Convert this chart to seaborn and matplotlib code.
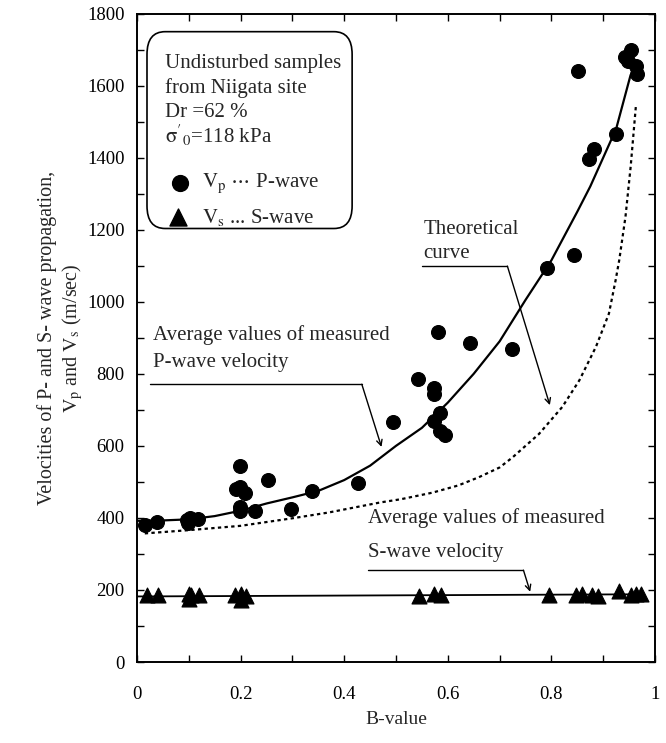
import numpy as np
import pandas as pd
import seaborn as sns
import matplotlib.pyplot as plt
from matplotlib.patches import FancyBboxPatch

# measured P-wave velocities
p_b = [0.015, 0.038, 0.099, 0.097, 0.103, 0.118, 0.198, 0.253, 0.192, 0.199, 0.208, 0.198, 0.198,
       0.227, 0.297, 0.337, 0.426, 0.494, 0.543, 0.573, 0.573, 0.582, 0.584, 0.574, 0.584, 0.595,
       0.642, 0.724, 0.792, 0.844, 0.852, 0.873, 0.882, 0.924, 0.943, 0.947, 0.953, 0.963, 0.966]
p_v = [380, 390, 385, 395, 400, 398, 545, 505, 480, 485, 470, 430, 418,
       420, 425, 475, 497, 665, 785, 760, 745, 915, 690, 670, 640, 630,
       885, 870, 1095, 1130, 1640, 1395, 1425, 1465, 1680, 1668, 1700, 1655, 1632]

# measured S-wave velocities
s_b = [0.02, 0.04, 0.10, 0.10, 0.105, 0.12, 0.19, 0.20, 0.20, 0.21, 0.545, 0.574, 0.587,
       0.796, 0.847, 0.86, 0.879, 0.889, 0.931, 0.953, 0.963, 0.972]
s_v = [185, 185, 176, 190, 185, 185, 185, 172, 188, 183, 183, 188, 185,
       185, 185, 190, 187, 183, 197, 185, 190, 190]

# average (fitted) P-wave curve
avg_p_b = [0.0, 0.05, 0.1, 0.15, 0.2, 0.25, 0.3, 0.35, 0.4, 0.45, 0.5, 0.55, 0.6, 0.65,
           0.7, 0.75, 0.8, 0.85, 0.875, 0.9, 0.925, 0.953]
avg_p_v = [392, 393, 396, 405, 420, 440, 457, 475, 505, 545, 600, 650, 720, 800,
           890, 1005, 1115, 1250, 1320, 1400, 1480, 1630]

# average S-wave line
avg_s_b = [0.0, 0.975]
avg_s_v = [182, 188]

# theoretical curve
theo_b = [0.015, 0.1, 0.2, 0.3, 0.37, 0.47, 0.51, 0.57, 0.62, 0.66, 0.70, 0.725, 0.776,
          0.821, 0.854, 0.886, 0.911, 0.924, 0.931, 0.943, 0.953, 0.963]
theo_v = [357, 366, 378, 399, 415, 443, 452, 470, 490, 513, 540, 568, 633,
          708, 782, 875, 967, 1060, 1116, 1236, 1375, 1542]

sns.set_style("ticks")
plt.rcParams['font.family'] = ['Liberation Serif', 'DejaVu Serif']
plt.rcParams['mathtext.fontset'] = 'stix'

fig = plt.figure(figsize=(6.66, 7.43), dpi=100)
ax = fig.add_axes([0.2057, 0.109, 0.7778, 0.8728])

sns.lineplot(x=avg_p_b, y=avg_p_v, ax=ax, color='black', lw=1.6, sort=False, estimator=None)
sns.lineplot(x=theo_b, y=theo_v, ax=ax, color='black', lw=1.6, sort=False, estimator=None,
             linestyle=(0, (1.5, 1.5)))
sns.lineplot(x=avg_s_b, y=avg_s_v, ax=ax, color='black', lw=1.3, sort=False, estimator=None)
sns.scatterplot(x=p_b, y=p_v, ax=ax, color='black', marker='o', s=100, edgecolor='black', zorder=5)
sns.scatterplot(x=s_b, y=s_v, ax=ax, color='black', marker='^', s=115, edgecolor='black', zorder=5)

ax.set_xlim(0, 1)
ax.set_ylim(0, 1800)
ax.set_xticks(np.arange(0, 1.01, 0.2))
ax.set_xticklabels(['0', '0.2', '0.4', '0.6', '0.8', '1'])
ax.set_xticks(np.arange(0.1, 1.0, 0.2), minor=True)
ax.set_yticks(np.arange(0, 1801, 200))
ax.set_yticks(np.arange(100, 1800, 200), minor=True)
ax.tick_params(which='both', direction='in', length=5, width=1, top=True, right=True,
               labelsize=13.5, colors='black')
ax.tick_params(axis='x', pad=17)
ax.tick_params(axis='y', pad=9)
for sp in ax.spines.values():
    sp.set_linewidth(1.4)
    sp.set_color('black')

ax.set_xlabel('B-value', fontsize=14, labelpad=6)
ax.set_ylabel('Velocities of P- and S- wave propagation,\n'
              r'$\mathrm{V_p}$ and $\mathrm{V_s}$ (m/sec)', fontsize=14.5, linespacing=1.2)
ax.yaxis.set_label_coords(-0.1, 0.5)

fs = 15
# P-wave annotation
ax.text(0.031, 907, 'Average values of measured', fontsize=fs, va='center')
ax.text(0.031, 832, 'P-wave velocity', fontsize=fs, va='center')
ax.plot([0.025, 0.434], [771, 771], color='black', lw=1)
ax.annotate('', xy=(0.472, 597), xytext=(0.434, 771),
            arrowprops=dict(arrowstyle='->', color='black', lw=1, shrinkA=0, shrinkB=0))

# theoretical curve annotation
ax.text(0.553, 1200, 'Theoretical', fontsize=fs, va='center')
ax.text(0.553, 1135, 'curve', fontsize=fs, va='center')
ax.plot([0.551, 0.715], [1099, 1099], color='black', lw=1)
ax.annotate('', xy=(0.797, 713), xytext=(0.715, 1099),
            arrowprops=dict(arrowstyle='->', color='black', lw=1, shrinkA=0, shrinkB=0))

# S-wave annotation
ax.text(0.446, 400, 'Average values of measured', fontsize=fs, va='center')
ax.text(0.446, 303, 'S-wave velocity', fontsize=fs, va='center')
ax.plot([0.446, 0.746], [255, 255], color='black', lw=1)
ax.annotate('', xy=(0.759, 195), xytext=(0.746, 255),
            arrowprops=dict(arrowstyle='->', color='black', lw=1, shrinkA=0, shrinkB=0))

# legend box
box = FancyBboxPatch((0.0193, 0.6685), 0.396, 0.3035, boxstyle='round,pad=0,rounding_size=0.035',
                     transform=ax.transAxes, fc='white', ec='black', lw=1.2, zorder=3)
ax.add_patch(box)
tx = 0.054
for y, s in [(0.9237, 'Undisturbed samples'), (0.885, 'from Niigata site'),
             (0.848, 'Dr =62 %'), (0.8127, r"$\mathrm{\sigma'_0}$=118 kPa")]:
    ax.text(tx, y, s, transform=ax.transAxes, fontsize=fs, va='center', zorder=4)
ax.scatter([0.083], [0.7386], transform=ax.transAxes, marker='o', s=130, color='black', zorder=4)
ax.scatter([0.079], [0.686], transform=ax.transAxes, marker='^', s=150, color='black', zorder=4)
ax.text(0.1255, 0.7386, r'$\mathrm{V_p}$ $\cdots$ P-wave', transform=ax.transAxes, fontsize=fs,
        va='center', zorder=4)
ax.text(0.1255, 0.686, r'$\mathrm{V_s}$ ... S-wave', transform=ax.transAxes, fontsize=fs,
        va='center', zorder=4)

fig.savefig('out.png', dpi=100)
